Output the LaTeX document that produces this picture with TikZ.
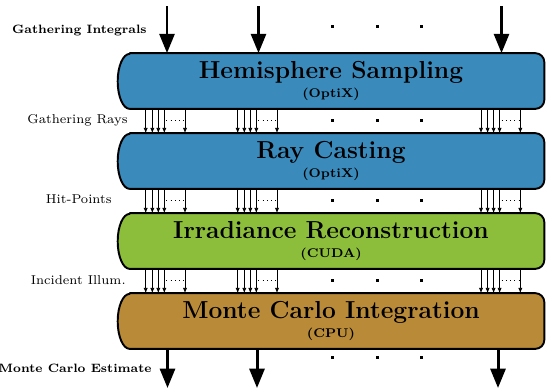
\documentclass[tikz,border=0pt]{standalone}
\usetikzlibrary{arrows.meta,backgrounds,calc}
\definecolor{cblue}{HTML}{3A8BBC}
\definecolor{cgreen}{HTML}{8DBE3B}
\definecolor{cbrown}{HTML}{B98B39}
\newcommand\capsule[2]{%
  \fill[#2] ([xshift=0.24cm]#1.north west) -- ([xshift=-0.18cm]#1.north east)
    arc[start angle=90,end angle=0,radius=0.18cm] -- ([yshift=0.18cm]#1.south east)
    arc[start angle=0,end angle=-90,radius=0.18cm] -- ([xshift=0.24cm]#1.south west)
    arc[start angle=270,end angle=90,x radius=0.24cm,y radius=0.55cm] -- cycle;
  \draw[outline] ([xshift=0.24cm]#1.north west) -- ([xshift=-0.18cm]#1.north east)
    arc[start angle=90,end angle=0,radius=0.18cm] -- ([yshift=0.18cm]#1.south east)
    arc[start angle=0,end angle=-90,radius=0.18cm] -- ([xshift=0.24cm]#1.south west)
    arc[start angle=270,end angle=90,x radius=0.24cm,y radius=0.55cm] -- cycle;}
\newcommand\boxtext[2]{{\fontsize{14}{15}\selectfont #1}\\[-1.3pt]{\fontsize{7.2}{8}\selectfont #2}}
\begin{document}
\begin{tikzpicture}[x=0.02cm,y=-0.02cm,
  stage/.style={rectangle, minimum width=8.52cm, minimum height=1.1cm, inner sep=0pt,
    align=center, font=\bfseries},
  outline/.style={line width=1.1pt, draw=black, line join=round},
  big/.style={line width=1.7pt, -{Triangle[length=11pt,width=8.5pt]}},
  ray/.style={line width=0.45pt, -{Latex[length=3pt,width=2.4pt]}},
  raydots/.style={line width=0.45pt, dotted},
  lbl/.style={anchor=base east, inner sep=0pt, font=\fontsize{7.3}{9}\selectfont},
  lblb/.style={anchor=base east, inner sep=0pt, font=\fontsize{6.9}{9}\selectfont\bfseries}]
\useasboundingbox (0,0) rectangle (546,390);

\node[stage] (b1) at (331,81)  {\boxtext{Hemisphere Sampling}{(OptiX)}};
\node[stage] (b2) at (331,161) {\boxtext{Ray Casting}{(OptiX)}};
\node[stage] (b3) at (331,241) {\boxtext{Irradiance Reconstruction}{(CUDA)}};
\node[stage] (b4) at (331,321) {\boxtext{Monte Carlo Integration}{(CPU)}};

\begin{scope}[on background layer]
  \capsule{b1}{cblue}
  \capsule{b2}{cblue}
  \capsule{b3}{cgreen}
  \capsule{b4}{cbrown}
\end{scope}

% labels
\node[lblb] (lgi) at (147,33)  {Gathering Integrals};
\node[lbl]  (lgr) at (128,123) {Gathering Rays};
\node[lbl]  (lhp) at (112,203) {Hit-Points};
\node[lbl]  (lii) at (126,284) {Incident Illum.};
\node[lblb] (lme) at (152,372) {Monte Carlo Estimate};

% input arrows
\foreach \x [count=\i] in {167,258.5,501.5}{
  \coordinate (in\i) at (\x,6);
  \draw[big] (in\i) -- (b1.north -| in\i);
}
% output arrows
\foreach \x [count=\i] in {167.5,257,498}{
  \coordinate (out\i) at (\x,388);
  \draw[big] (b4.south -| out\i) -- (out\i);
}

% ray bundles
\foreach \a/\b in {b1/b2,b2/b3,b3/b4}{
  \path (\a.south) -- (\b.north) coordinate[pos=0.47] (mid);
  \foreach \g in {145.7,237.7,481}{
    \foreach \o in {0,6.6,12.6,18.6,39.3}{
      \coordinate (col) at (\g+\o,0);
      \draw[ray] (\a.south -| col) -- (\b.north -| col);
    }
    \coordinate (d1) at (\g+20.5,0);
    \coordinate (d2) at (\g+39.3,0);
    \draw[raydots] (mid -| d1) -- (mid -| d2);
  }
}

% ellipsis dots
\foreach \y in {26,120,200,280,357}{
  \foreach \x in {332.7,377,421.6}{
    \fill (\x-1.5,\y-1.5) rectangle ++(3,3);
  }
}
\end{tikzpicture}
\end{document}
